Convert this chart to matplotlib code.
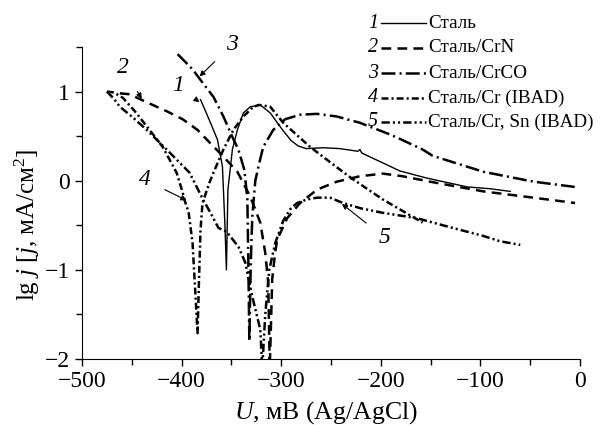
import numpy as np
import matplotlib
matplotlib.use("Agg")
import matplotlib.pyplot as plt
from matplotlib.ticker import MultipleLocator

plt.rcParams['font.family'] = ['Liberation Serif', 'DejaVu Serif']
plt.rcParams['mathtext.fontset'] = 'custom'
plt.rcParams['mathtext.rm'] = 'Liberation Serif'
plt.rcParams['mathtext.it'] = 'Liberation Serif:italic'
plt.rcParams['lines.scale_dashes'] = False

# Curve 1: Сталь
u1 = [-381, -371, -364, -359, -356.5, -355, -353.5, -349, -344, -338, -331, -321, -311, -298, -290,
      -283, -275, -258, -241, -223, -221, -219, -198, -181, -154, -113, -90, -70]
j1 = [0.91, 0.65, 0.46, 0.16, -0.5, -1.0, -0.1, 0.35, 0.57, 0.76, 0.83, 0.85, 0.76, 0.56, 0.45,
      0.39, 0.36, 0.37, 0.36, 0.33, 0.35, 0.31, 0.20, 0.11, 0.03, -0.07, -0.09, -0.12]

# Curve 2: Сталь/CrN
u2 = [-462, -452, -437, -415, -399, -384, -372, -358, -344, -331, -321, -316, -313, -311.5,
      -309, -306, -304, -294, -281, -264, -244, -221, -198, -178, -151, -97, -47, -5]
j2 = [0.98, 0.97, 0.89, 0.78, 0.69, 0.57, 0.43, 0.27, 0.10, -0.18, -0.47, -0.81, -1.15, -2.1,
      -1.1, -0.8, -0.66, -0.42, -0.25, -0.10, -0.01, 0.05, 0.08, 0.05, -0.01, -0.12, -0.19, -0.25]

# Curve 3: Сталь/CrCO
u3 = [-404, -389, -379, -368, -358, -349, -343, -337, -334, -333, -332, -330.5, -329, -326,
      -322, -318, -308, -296, -281, -264, -244, -221, -191, -181, -158, -148, -97, -47, -5]
j3 = [1.42, 1.25, 1.10, 0.94, 0.72, 0.49, 0.35, 0.12, -0.2, -0.9, -1.8, -0.9, -0.4, 0.0,
      0.2, 0.38, 0.57, 0.69, 0.74, 0.75, 0.72, 0.65, 0.52, 0.47, 0.35, 0.28, 0.10, -0.01, -0.07]

# Curve 4: Сталь/Cr (IBAD)
u4 = [-475, -468, -459, -447, -435, -419, -405, -399, -397, -393, -389, -386, -384, -382.5, -381,
      -379, -372, -368, -358, -348, -338, -328, -322, -311, -298, -285, -271, -250, -231, -198, -158]
j4 = [1.00, 0.99, 0.93, 0.78, 0.61, 0.38, 0.09, -0.13, -0.22, -0.35, -0.7, -1.3, -1.71, -1.1, -0.55,
      -0.25, -0.02, 0.09, 0.35, 0.57, 0.72, 0.83, 0.85, 0.83, 0.65, 0.52, 0.38, 0.20, 0.04, -0.21, -0.47]

# Curve 5: Сталь/Cr, Sn (IBAD)
u5 = [-475, -468, -462, -450, -435, -415, -392, -379, -371, -363, -355, -343, -336, -329, -321, -319,
      -316, -312, -306, -298, -291, -284, -274, -264, -251, -238, -220, -198, -164, -131, -97, -80, -60]
j5 = [1.00, 0.92, 0.83, 0.72, 0.57, 0.35, 0.09, -0.2, -0.36, -0.53, -0.57, -0.74, -0.92, -1.3, -1.67, -2.1,
      -1.5, -1.0, -0.7, -0.45, -0.32, -0.25, -0.21, -0.19, -0.19, -0.25, -0.31, -0.36, -0.42, -0.52, -0.62, -0.68, -0.72]

series = [
    (u1, j1, '1', 'Сталь', '-', 1.0),
    (u2, j2, '2', 'Сталь/CrN', (0, (7, 4.5)), 1.8),
    (u3, j3, '3', 'Сталь/CrCO', (0, (10, 3, 1.5, 3)), 1.8),
    (u4, j4, '4', 'Сталь/Cr (IBAD)', (0, (5, 2.2, 1.5, 2.2)), 1.8),
    (u5, j5, '5', 'Сталь/Cr, Sn (IBAD)', (0, (6, 2.2, 1.5, 2.2, 1.5, 2.2)), 1.8),
]

fig = plt.figure(figsize=(6.03, 4.25), dpi=100)
ax = fig.add_axes([82/603, 66/425, 498/603, 312/425])

for u, j, num, lab, ls, lw in series:
    ax.plot(u, j, color='black', linestyle=ls, linewidth=lw)

ax.set_xlim(-500, 0)
ax.set_ylim(-2, 1.5)
ax.spines['top'].set_visible(False)
ax.spines['right'].set_visible(False)
ax.xaxis.set_major_locator(MultipleLocator(100))
ax.xaxis.set_minor_locator(MultipleLocator(50))
ax.yaxis.set_major_locator(MultipleLocator(1))
ax.yaxis.set_minor_locator(MultipleLocator(0.5))
ax.tick_params(which='both', direction='out', labelsize=17, width=1)
ax.tick_params(which='major', length=5)
ax.tick_params(which='minor', length=4)
ax.set_xticks([-500, -400, -300, -200, -100, 0])
ax.set_xticklabels(['\u2212500', '\u2212400', '\u2212300', '\u2212200', '\u2212100', '0'])
ax.set_yticks([-2, -1, 0, 1])
ax.set_yticklabels(['\u22122', '\u22121', '0', '1'])
ax.set_xlabel('$U$, мВ (Ag/AgCl)', fontsize=18.5)
ax.set_ylabel('lg $j$ [$j$, мА/см$^2$]', fontsize=18)
ax.xaxis.label.set_va('baseline')
ax.xaxis.set_label_coords(0.49, -0.190)
ax.yaxis.label.set_va('center')
ax.yaxis.label.set_ha('center')
ax.yaxis.set_label_coords(-0.11, 0.43)

# Curve number annotations
ann = [
    ('1', (-382, 0.88), (-404, 1.07)),
    ('2', (-440, 0.92), (-459, 1.27)),
    ('3', (-382, 1.17), (-349, 1.53)),
    ('4', (-395, -0.22), (-437, 0.01)),
    ('5', (-239, -0.26), (-196, -0.64)),
]
for num, xy, xt in ann:
    ax.annotate(num, xy=xy, xytext=xt, fontsize=17, style='italic',
                ha='center', va='center',
                arrowprops=dict(arrowstyle='-|>', color='black', lw=0.8,
                                mutation_scale=8, shrinkA=9, shrinkB=0))

# Legend (manual, figure-pixel positions)
rows_y = [23, 48, 73, 98, 122]
for (u, j, num, lab, ls, lw), yy in zip(series, rows_y):
    yf = 1 - yy/425
    fig.text(378/603, yf, num, fontsize=14.5, style='italic', ha='right', va='center')
    fig.add_artist(plt.Line2D([381/603, 426/603], [yf, yf], color='black',
                              linestyle=ls, linewidth=lw))
    fig.text(428/603, yf, lab, fontsize=13.8, ha='left', va='center')

fig.savefig('out.png', dpi=100)
